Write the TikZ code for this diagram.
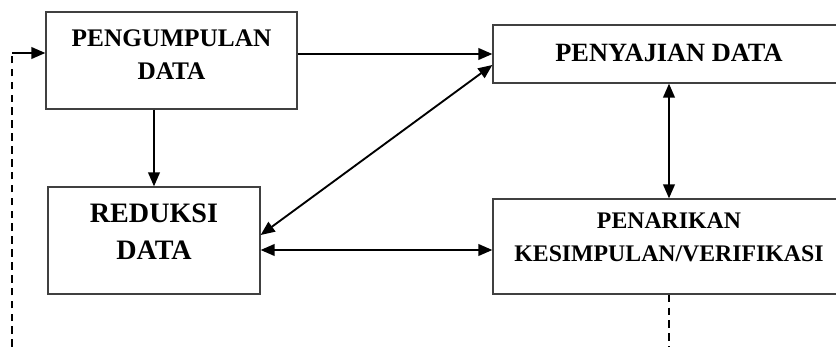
\documentclass[tikz,border=0pt]{standalone}
\usepackage{fontspec}
\setmainfont{Liberation Serif}
\usetikzlibrary{arrows.meta,calc}

\begin{document}
\begin{tikzpicture}[x=0.03cm,y=-0.03cm,
    kotak/.style={draw=black!75,line width=1.1pt,inner sep=0pt},
    teks/.style={font=\fontsize{21.6}{28.3}\selectfont\bfseries,align=center,inner sep=0pt},
    panah/.style={-{Triangle[length=12pt,width=10pt]},line width=1.6pt},
    panahdua/.style={{Triangle[length=12pt,width=10pt]}-{Triangle[length=12pt,width=10pt]},line width=1.6pt},
    putus/.style={line width=1pt,dash pattern=on 6.5pt off 4.5pt}]

    \useasboundingbox (0,0) rectangle (836,347);

    % Kotak
    \node[kotak,minimum width=7.53cm,minimum height=2.91cm] (pgm) at (171.5,60.5) {};
    \node[kotak,minimum width=6.36cm,minimum height=3.21cm] (red) at (154,240.5) {};
    \node[kotak,minimum width=10.56cm,minimum height=1.74cm] (pny) at (669,54) {};
    \node[kotak,minimum width=10.56cm,minimum height=2.85cm] (pnr) at (669,246.5) {};

    % Teks
    \node[teks] (tpgm) at (171.5,54.5) {PENGUMPULAN\\DATA};
    \node[teks,font=\fontsize{24}{31.2}\selectfont\bfseries] (tred) at (154,231.5) {REDUKSI\\DATA};
    \node[teks,font=\fontsize{22.5}{28.3}\selectfont\bfseries] (tpny) at (669,52.5) {PENYAJIAN DATA};
    \node[teks,font=\fontsize{20.3}{28.3}\selectfont\bfseries] (tpnr) at (669,237) {PENARIKAN\\KESIMPULAN/VERIFIKASI};

    % Garis putus-putus (umpan balik)
    \coordinate (awal) at (12,347);
    \coordinate (belok) at (12,53);
    \draw[putus] (awal) -- (belok);
    \draw[panah] (belok) -- (belok -| pgm.west);
    \draw[putus] (pnr.south) -- (pnr.south |- awal);

    % Panah
    \draw[panah] (pgm.east |- pny.west) -- (pny.west);
    \draw[panah] (red.north |- pgm.south) -- (red.north);
    \draw[panahdua] ($(pny.west)+(0,11)$) -- ($(red.east)+(0,-5.5)$);
    \coordinate (hb) at ($(red.east)+(0,9.5)$);
    \draw[panahdua] (hb) -- (hb -| pnr.west);
    \draw[panahdua] (pny.south) -- (pnr.north);

\end{tikzpicture}
\end{document}
